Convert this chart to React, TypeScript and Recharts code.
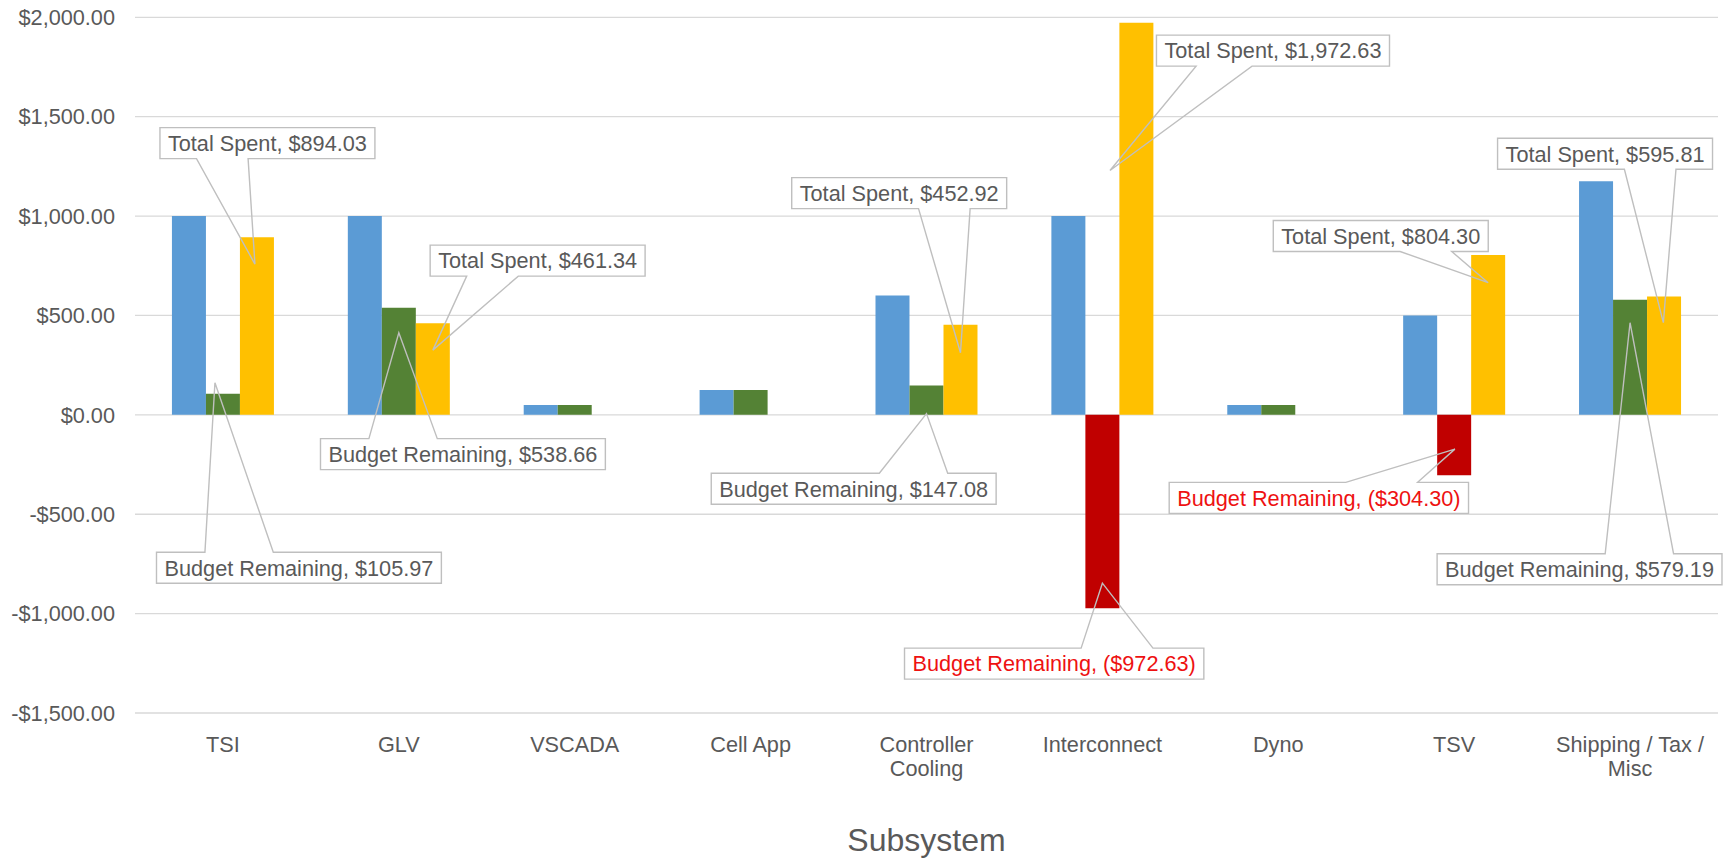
import React from 'react';
import { BarChart, Bar, XAxis, YAxis, CartesianGrid, Cell, LabelList } from 'recharts';

// ---------- data ----------
const categories = ['TSI', 'GLV', 'VSCADA', 'Cell App', 'Controller Cooling', 'Interconnect', 'Dyno', 'TSV', 'Shipping / Tax / Misc'];
const tickLabels = [['TSI'], ['GLV'], ['VSCADA'], ['Cell App'], ['Controller', 'Cooling'], ['Interconnect'], ['Dyno'], ['TSV'], ['Shipping / Tax /', 'Misc']];
const budget = [1000, 1000, 50, 125, 600, 1000, 50, 500, 1175];
const budgetRemaining = [105.97, 538.66, 50, 125, 147.08, -972.63, 50, -304.3, 579.19];
const totalSpent = [894.03, 461.34, 0, 0, 452.92, 1972.63, 0, 804.3, 595.81];
const yTicks = [-1500, -1000, -500, 0, 500, 1000, 1500, 2000];
const seriesNames = { budget: 'Budget', remaining: 'Budget Remaining', spent: 'Total Spent' };

// ---------- callout layout (offsets from the bar's value end, px) ----------
type Callout = { bx: number; by: number; ax: number; ay: number } | null;
const spentCallouts: Callout[] = [
  { bx: 10.5, by: -94, ax: -2, ay: 27 },
  { bx: 104.8, by: -62.5, ax: 0, ay: 27 },
  null,
  null,
  { bx: -61.3, by: -131.7, ax: 0, ay: 28 },
  { bx: 136.6, by: 27.9, ax: -26.4, ay: 147.7 },
  null,
  { bx: -107.4, by: -19, ax: 0, ay: 27.7 },
  { bx: -59, by: -142.7, ax: -0.7, ay: 26.2 },
];
const remainingCallouts: Callout[] = [
  { bx: 76, by: 174, ax: -8, ay: -11 },
  { bx: 64.1, by: 146.4, ax: 0, ay: 25 },
  null,
  null,
  { bx: -72.8, by: 103.1, ax: 0, ay: 28 },
  { bx: -48.2, by: 55.5, ax: 0, ay: -25 },
  null,
  { bx: -135.3, by: 22.5, ax: 0.7, ay: -26.2 },
  { bx: -50.5, by: 269.5, ax: 0, ay: 23 },
];

const data = categories.map((name, i) => ({
  name,
  budget: budget[i],
  remaining: budgetRemaining[i],
  spent: totalSpent[i],
}));

// ---------- styles ----------
const FONT_FAMILY = '"Liberation Sans", Arial, sans-serif';
const FS = 21.7;
const TEXT = '#595959';
const GRID = '#D9D9D9';
const BOX = '#BFBFBF';
const BLUE = '#5B9BD5';
const GREEN = '#548235';
const RED = '#C00000';
const YELLOW = '#FFC000';
const LABEL_RED = '#EE1111';

const money = (v: number) =>
  '$' + Math.abs(v).toLocaleString('en-US', { minimumFractionDigits: 2, maximumFractionDigits: 2 });
const yTickFmt = (v: number) => (v < 0 ? '-' : '') + money(v);
const labelFmt = (v: number) => (v < 0 ? `(${money(v)})` : money(v));

let ctx: CanvasRenderingContext2D | null = null;
const measure = (text: string) => {
  if (!ctx) ctx = document.createElement('canvas').getContext('2d');
  if (!ctx) return text.length * FS * 0.5;
  ctx.font = `${FS}px ${FONT_FAMILY}`;
  return ctx.measureText(text).width;
};

const makeCallout = (name: string, values: number[], cfg: Callout[]) => (props: any) => {
  const { value } = props;
  if (value == null) return null;
  let idx = -1;
  if (props.payload && props.payload.name != null) idx = categories.indexOf(props.payload.name);
  if (idx < 0) idx = values.indexOf(Number(value));
  const c = idx >= 0 ? cfg[idx] : null;
  if (!c) return null;
  const vb = props.viewBox && props.viewBox.width != null ? props.viewBox : props;
  const x = Number(vb.x), y = Number(vb.y), w = Number(vb.width), h = Number(vb.height);
  const cx = x + w / 2;
  const vy = value >= 0 ? Math.min(y, y + h) : Math.max(y, y + h);
  const text = `${name}, ${labelFmt(value)}`;
  const bw = measure(text) + 16;
  const bh = 31;
  const bcx = cx + c.bx;
  const bcy = vy + c.by;
  const x0 = bcx - bw / 2, x1 = bcx + bw / 2, y0 = bcy - bh / 2, y1 = bcy + bh / 2;
  const ax = cx + c.ax, ay = vy + c.ay;
  const right = ax > bcx;
  const b1 = x0 + (right ? 0.59 : 0.17) * bw;
  const b2 = x0 + (right ? 0.83 : 0.41) * bw;
  const d =
    ay > y1
      ? `M${x0},${y0}H${x1}V${y1}H${b2}L${ax},${ay}L${b1},${y1}H${x0}Z`
      : `M${x0},${y0}H${b1}L${ax},${ay}L${b2},${y0}H${x1}V${y1}H${x0}Z`;
  return (
    <g key={`${name}-${idx}`}>
      <path d={d} fill="none" stroke={BOX} strokeWidth={1.4} />
      <text
        x={bcx}
        y={bcy}
        dy="0.36em"
        textAnchor="middle"
        fontFamily={FONT_FAMILY}
        fontSize={FS}
        fill={value < 0 ? LABEL_RED : TEXT}
      >
        {text}
      </text>
    </g>
  );
};

const XTick = (props: any) => {
  const { x, y, payload } = props;
  const i = categories.indexOf(payload.value);
  const lines = i >= 0 ? tickLabels[i] : [String(payload.value)];
  return (
    <g>
      {lines.map((ln, k) => (
        <text
          key={k}
          x={x}
          y={y + 37 + k * 24}
          textAnchor="middle"
          fontFamily={FONT_FAMILY}
          fontSize={FS}
          fill={TEXT}
        >
          {ln}
        </text>
      ))}
    </g>
  );
};

const AxisTitle = (props: any) => {
  const vb = props.viewBox || {};
  return (
    <text
      x={vb.x + vb.width / 2}
      y={vb.y + 138}
      textAnchor="middle"
      fontFamily={FONT_FAMILY}
      fontSize={32}
      fill={TEXT}
    >
      Subsystem
    </text>
  );
};

export default function App() {
  return (
    <div style={{ position: 'absolute', left: 0, top: 0, width: 1732, height: 862, background: '#fff' }}>
      <BarChart
        width={1732}
        height={862}
        data={data}
        margin={{ top: 17.3, right: 14, bottom: 0, left: 0 }}
        barGap={0}
        barCategoryGap="21%"
      >
        <CartesianGrid vertical={false} stroke={GRID} strokeWidth={1.3} />
        <XAxis
          dataKey="name"
          axisLine={false}
          tickLine={false}
          tickSize={0}
          height={149}
          interval={0}
          tick={<XTick />}
          label={<AxisTitle />}
        />
        <YAxis
          width={135}
          domain={[-1500, 2000]}
          ticks={yTicks}
          interval={0}
          axisLine={false}
          tickLine={false}
          tickSize={0}
          tickMargin={20}
          tickFormatter={yTickFmt}
          tick={{ fontSize: FS, fill: TEXT, fontFamily: FONT_FAMILY }}
        />
        <Bar dataKey="budget" name={seriesNames.budget} fill={BLUE} isAnimationActive={false} />
        <Bar dataKey="remaining" name={seriesNames.remaining} fill={GREEN} isAnimationActive={false}>
          {data.map((d, i) => (
            <Cell key={i} fill={d.remaining < 0 ? RED : GREEN} />
          ))}
          <LabelList dataKey="remaining" content={makeCallout(seriesNames.remaining, budgetRemaining, remainingCallouts)} />
        </Bar>
        <Bar dataKey="spent" name={seriesNames.spent} fill={YELLOW} isAnimationActive={false}>
          <LabelList dataKey="spent" content={makeCallout(seriesNames.spent, totalSpent, spentCallouts)} />
        </Bar>
      </BarChart>
    </div>
  );
}
